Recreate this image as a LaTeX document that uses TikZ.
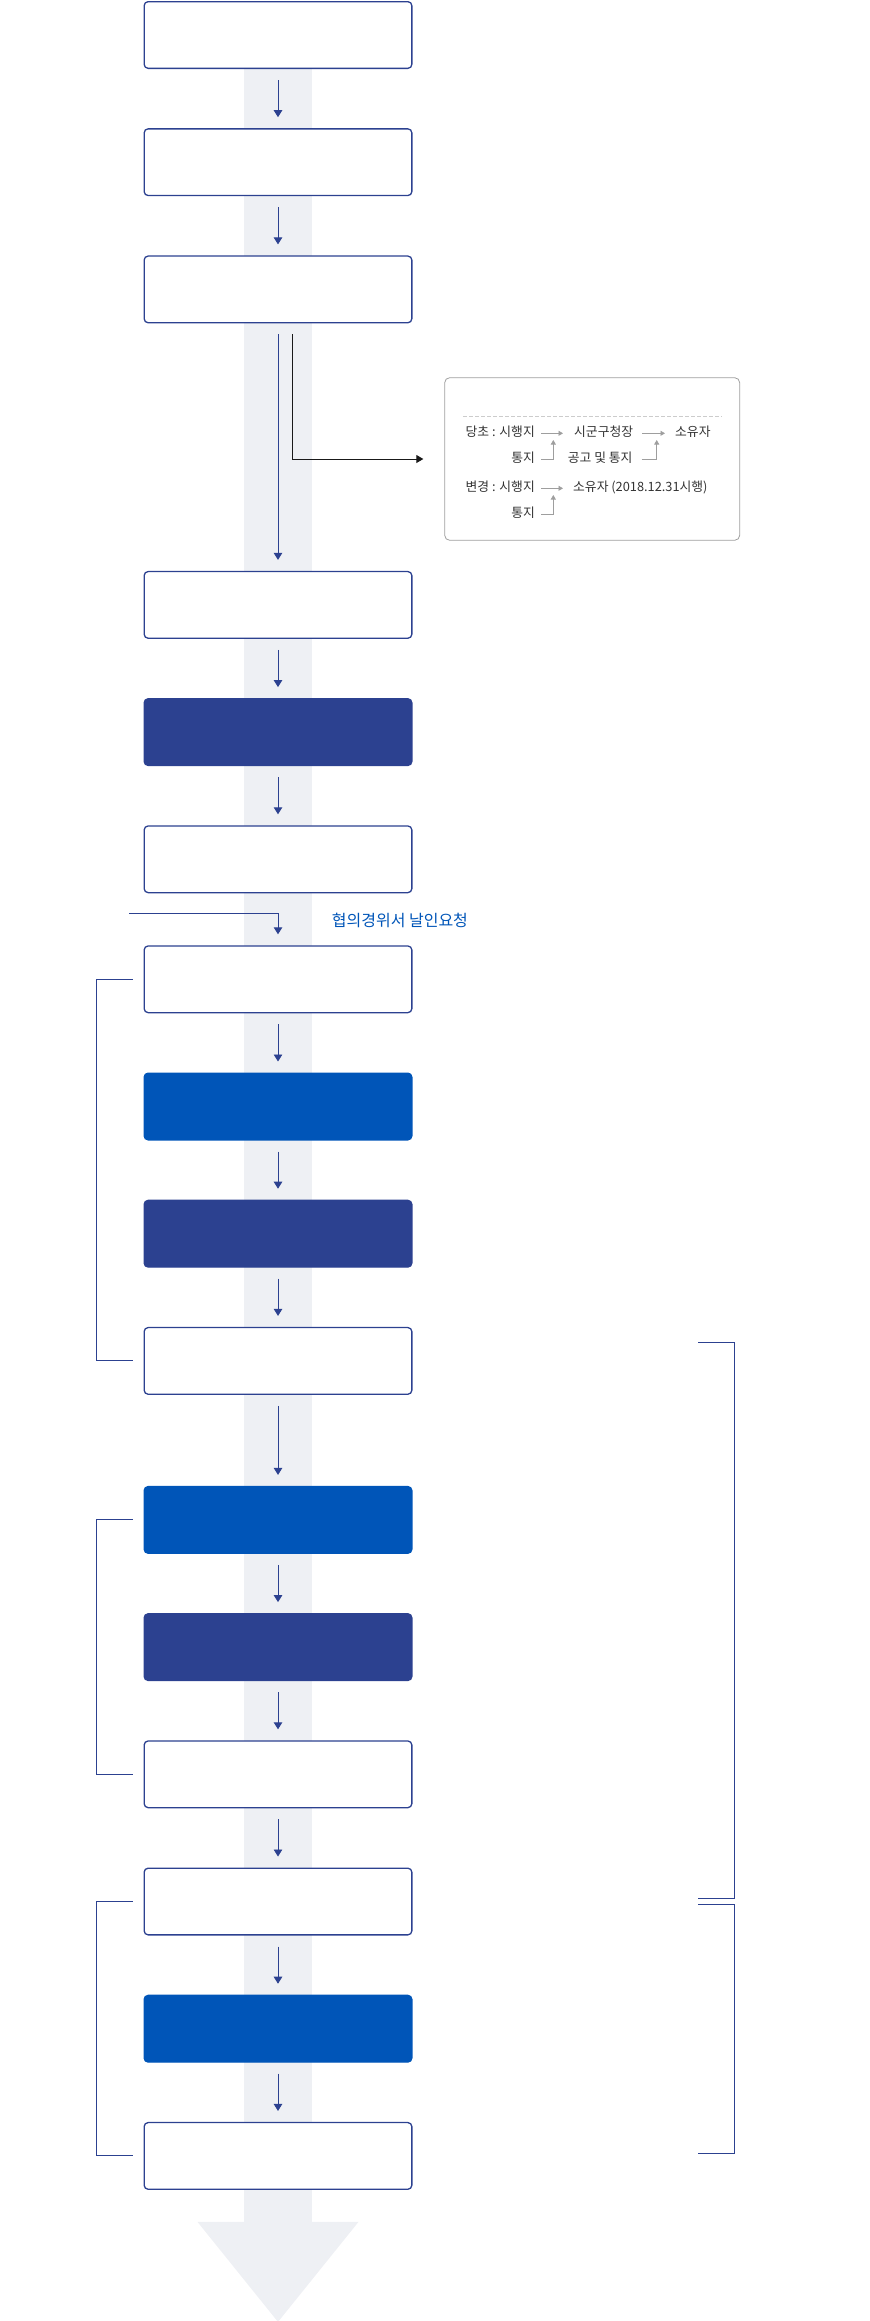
\documentclass[tikz,border=0pt]{standalone}
\usepackage{fontspec}
\setmainfont{Noto Sans CJK KR}
\usetikzlibrary{arrows.meta, positioning, backgrounds}

\definecolor{navy}{HTML}{2C4190}
\definecolor{brightblue}{HTML}{0055B8}
\definecolor{bandgray}{HTML}{EEF0F4}
\definecolor{memogray}{HTML}{9E9E9E}
\definecolor{memodash}{HTML}{CCCCCC}
\definecolor{memotext}{HTML}{333333}

\tikzstyle{stepbox} = [rectangle, rounded corners=4pt, minimum width=267.7pt, minimum height=66.7pt, draw=navy, line width=1.3pt, fill=white]
\tikzstyle{stepnavy} = [stepbox, fill=navy]
\tikzstyle{stepblue} = [stepbox, draw=brightblue, fill=brightblue]
\tikzstyle{flow} = [draw=navy, line width=0.9pt, -{Triangle[width=8.5pt,length=7pt]}, shorten <=11pt, shorten >=11pt]
\tikzstyle{bracket} = [draw=navy, line width=0.9pt]
\tikzstyle{memobox} = [rectangle, rounded corners=5pt, draw=memogray, line width=0.8pt, minimum width=295pt, minimum height=162.6pt]
\tikzstyle{memoarrow} = [draw=black!90, line width=0.9pt, -{Triangle[width=8pt,length=7pt]}, shorten >=21pt]
\tikzstyle{memotxt} = [inner sep=0pt, text=memotext, text height=9pt, text depth=2pt, font=\fontsize{12.8}{14}\selectfont]
\tikzstyle{memoline} = [draw=memogray, line width=0.7pt, -{Triangle[width=5pt,length=4.5pt]}]

\begin{document}
\begin{tikzpicture}[x=1pt, y=-1pt, node distance=59.2pt]
\useasboundingbox (0,0) rectangle (870,2321);

% Steps
\node (b1) [stepbox] at (278,35) {};
\node (b2) [stepbox, below=of b1] {};
\node (b3) [stepbox, below=of b2] {};
\node (b4) [stepbox, below=247.5pt of b3] {};
\node (b5) [stepnavy, below=of b4] {};
\node (b6) [stepbox, below=of b5] {};
\node (b7) [stepbox, below=52pt of b6] {};
\node (b8) [stepblue, below=of b7] {};
\node (b9) [stepnavy, below=of b8] {};
\node (b10) [stepbox, below=of b9] {};
\node (b11) [stepblue, below=91pt of b10] {};
\node (b12) [stepnavy, below=of b11] {};
\node (b13) [stepbox, below=of b12] {};
\node (b14) [stepbox, below=of b13] {};
\node (b15) [stepblue, below=of b14] {};
\node (b16) [stepbox, below=of b15] {};

% Gray band and big arrow behind the steps
\begin{scope}[on background layer]
\fill[bandgray] ([xshift=-34.3pt]b1.south) rectangle ([xshift=34.3pt,yshift=-32pt]b16.south);
\coordinate (tip) at ([yshift=-132pt]b16.south);
\fill[bandgray] ([xshift=-80.5pt,yshift=-32pt]b16.south) -- ([xshift=80.5pt,yshift=-32pt]b16.south) -- (tip) -- cycle;
\end{scope}

% Arrows between steps
\draw[flow] (b1) -- (b2);
\draw[flow] (b2) -- (b3);
\draw[flow] (b3) -- (b4);
\draw[flow] (b4) -- (b5);
\draw[flow] (b5) -- (b6);
\draw[flow] (b7) -- (b8);
\draw[flow] (b8) -- (b9);
\draw[flow] (b9) -- (b10);
\draw[flow] (b10) -- (b11);
\draw[flow] (b11) -- (b12);
\draw[flow] (b12) -- (b13);
\draw[flow] (b13) -- (b14);
\draw[flow] (b14) -- (b15);
\draw[flow] (b15) -- (b16);

% Request coming in from the left
\coordinate (req) at (129,913.3);
\draw[flow, shorten <=0pt] (req) -| (b7.north);
\node (reqlabel) [anchor=west, inner sep=0pt, text=brightblue, font=\fontsize{16}{19}\selectfont] at (331.7,920) {협의경위서 날인요청};

% Memo box
\node (memo) [memobox] at (592.2,459) {};
\draw[memoarrow] ([xshift=14pt,yshift=-11pt]b3.south) |- (memo.west);
\draw[memodash, line width=0.6pt, dash pattern=on 3.5pt off 2.5pt] ([xshift=18.7pt,yshift=-38.7pt]memo.north west) -- ([xshift=-18.3pt,yshift=-38.7pt]memo.north east);

\node (old) [memotxt, anchor=east] at (535,433.3) {당초 : 시행지};
\node (oldnote) [memotxt, anchor=east] at (535,459.3) {통지};
\node (city) [memotxt, anchor=west] at (574,433.3) {시군구청장};
\node (citynote) [memotxt, anchor=west] at (567.7,459.3) {공고 및 통지};
\node (owner) [memotxt, anchor=west] at (675,433.3) {소유자};
\node (new) [memotxt, anchor=east] at (535,488.3) {변경 : 시행지};
\node (newnote) [memotxt, anchor=east] at (535,514.3) {통지};
\node (newowner) [memotxt, anchor=west] at (573,488.3) {소유자 (2018.12.31시행)};

\coordinate (e1) at (553.3,440);
\coordinate (e2) at (656.7,440);
\coordinate (e3) at (553.3,495);
\draw[memoline, shorten <=6pt, shorten >=11pt] (old.east) -- (city.west);
\draw[memoline, shorten <=9pt, shorten >=10pt] (city.east) -- (owner.west);
\draw[memoline, shorten <=6pt] (oldnote.east) -| (e1);
\draw[memoline, shorten <=9pt] (citynote.east) -| (e2);
\draw[memoline, shorten <=6pt, shorten >=10pt] (new.east) -- (newowner.west);
\draw[memoline, shorten <=6pt] (newnote.east) -| (e3);

% Left brackets
\draw[bracket] ([xshift=-11pt]b7.west) -- ++(-36pt,0) |- ([xshift=-11pt]b10.west);
\draw[bracket] ([xshift=-11pt]b11.west) -- ++(-36pt,0) |- ([xshift=-11pt]b13.west);
\draw[bracket] ([xshift=-11pt]b14.west) -- ++(-36pt,0) |- ([xshift=-11pt]b16.west);

% Right brackets
\draw[bracket] ([xshift=285.5pt,yshift=18.3pt]b10.east) -- ++(36pt,0) |- ([xshift=285.5pt,yshift=3.2pt]b14.east);
\draw[bracket] ([xshift=285.5pt,yshift=-2.5pt]b14.east) -- ++(36pt,0) |- ([xshift=285.5pt,yshift=2.8pt]b16.east);

\end{tikzpicture}
\end{document}
